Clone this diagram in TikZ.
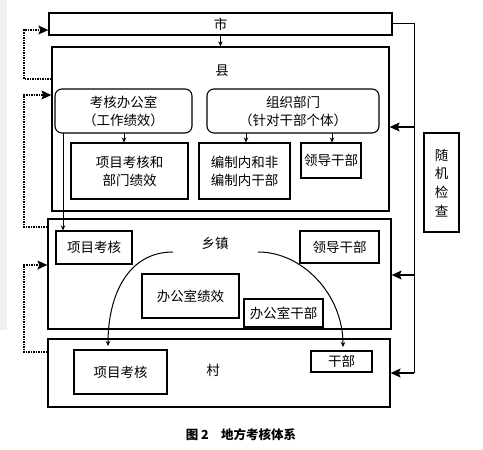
\documentclass[tikz,border=0pt]{standalone}
\usepackage{fontspec}
\setmainfont{Noto Sans CJK SC}
\usetikzlibrary{arrows.meta}
\begin{document}
\begin{tikzpicture}[x=1pt,y=-1pt,
  every node/.style={font=\fontsize{13.5}{18}\selectfont, inner sep=0pt},
  box/.style={draw, line width=1.1pt, align=center},
  bigbox/.style={draw, line width=1.3pt},
  rbox/.style={draw, line width=1.1pt, rounded corners=7pt, align=center},
  conn/.style={line width=1pt},
  small/.style={-{Stealth[length=5pt,width=4.5pt]}, line width=1pt},
  big/.style={-{Stealth[length=10pt,width=9pt,inset=2pt]}, line width=1.1pt},
  dot/.style={-{Stealth[length=10pt,width=9pt,inset=2pt]}, line width=1.1pt, dash pattern=on 1.5pt off 1pt}
]
\useasboundingbox (0,0) rectangle (483,450);
\fill[gray!12] (0,0) rectangle (7,330);
% outer level boxes
\node[bigbox, minimum width=343pt, minimum height=22pt] (shi) at (220.5,24) {};
\node at (220.5,24) (shiL) {市};
\node[bigbox, minimum width=337pt, minimum height=164pt] (xian) at (220.5,129) {};
\node (xianL) at (222,71) {县};
\node[bigbox, minimum width=343pt, minimum height=110pt] (xz) at (219.5,274) {};
\node (xzL) at (215,243) {乡镇};
\node[bigbox, minimum width=342pt, minimum height=68pt] (cun) at (219,373) {};
\node (cunL) at (213,370) {村};
% county inner
\node[rbox, minimum width=137pt, minimum height=44pt] (kh) at (123.5,111) {考核办公室\\（工作绩效）};
\node[rbox, minimum width=172pt, minimum height=44pt] (zz) at (293,111) {组织部门\\（针对干部个体）};
\node[box, minimum width=117pt, minimum height=56pt] (xm1) at (129.5,171) {项目考核和\\部门绩效};
\node[box, minimum width=91pt, minimum height=56pt] (bz) at (244.5,171) {编制内和非\\编制内干部};
\node[box, minimum width=60pt, minimum height=35pt] (ld1) at (331,160.5) {领导干部};
% random check
\node[box, minimum width=35pt, minimum height=99pt] (sj) at (441.5,182.5) {};
\node at (441.5,155) {随};
\node at (441.5,173.5) {机};
\node at (441.5,192) {检};
\node at (441.5,211) {查};
% town inner
\node[box, minimum width=76pt, minimum height=33pt] (xm2) at (94,247.5) {项目考核};
\node[box, minimum width=79pt, minimum height=32pt] (ld2) at (339.5,247) {领导干部};
\node[box, minimum width=97pt, minimum height=44pt] (bgs) at (190.5,296) {办公室绩效};
\node[box, minimum width=79pt, minimum height=28pt] (bgsgb) at (283.5,313) {办公室干部};
% village inner
\node[box, minimum width=93pt, minimum height=44pt] (xm3) at (120.5,372) {项目考核};
\node[box, minimum width=61pt, minimum height=21pt] (gb) at (341.5,361.5) {干部};
% caption
\node[font=\fontsize{12.5}{15}\selectfont\bfseries] (cap) at (241,435) {图 2\quad 地方考核体系};

% arrows inside
\draw[small] (shi.south) -- (xian.north);
\draw[small] (124,133) coordinate (a1) -- (a1 |- xm1.north);
\draw[small] (246,133) coordinate (a2) -- (a2 |- bz.north);
\draw[small] (332,133) coordinate (a3) -- (a3 |- ld1.north);
\draw[small] (63,133) coordinate (a4) -- (a4 |- xm2.north);

% right side
\coordinate (r0) at (414,23);
\draw[conn] (shi.east |- r0) -- (r0) -- (414,373);
\draw[big] (414,127) -- (xian.east |- 0,127);
\draw[big] (414,275) -- (xz.east |- 0,275);
\draw[big] (414,373) -- (cun.east |- 0,373);

% left dotted feedback
\draw[dot] (xian.west |- 0,79) -- (24,79) -- (24,30) -- (shi.west |- 0,30);
\draw[dot] (xz.west |- 0,227) -- (24,227) -- (24,95) -- (xian.west |- 0,95);
\draw[dot] (cun.west |- 0,352) -- (24,352) -- (24,265) -- (xz.west |- 0,265);

% curves
\draw[small] (173,252) .. controls (128,252) and (108,295) .. (108,346);
\draw[small] (258,252) .. controls (303,252) and (343,295) .. (343,347);
\end{tikzpicture}
\end{document}
